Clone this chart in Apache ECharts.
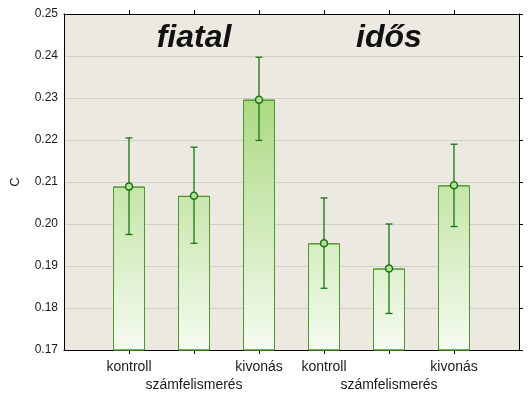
<!DOCTYPE html>
<html>
<head>
<meta charset="utf-8">
<script src="https://cdn.jsdelivr.net/npm/echarts@6/dist/echarts.min.js"></script>
<style>
  html, body { margin: 0; padding: 0; background: #fff; }
  #chart { width: 530px; height: 397px; }
</style>
</head>
<body>
<div id="chart"></div>
<script>
// slots 0 and 7 are empty padding so bars sit on 1..6
const categories = ['', 'kontroll', '\nszámfelismerés', 'kivonás', 'kontroll', '\nszámfelismerés', 'kivonás', '']
const means = [null, 0.2089, 0.2067, 0.2296, 0.1954, 0.1894, 0.2092, null]
const lower = [null, 0.1975, 0.1954, 0.2199, 0.1847, 0.1787, 0.1994, null]
const upper = [null, 0.2205, 0.2183, 0.2397, 0.2062, 0.2000, 0.2190, null]
const groupLabels = ['fiatal', 'idős']
const groupCenters = [2, 5]
const yTicks = { min: 0.17, max: 0.25, interval: 0.01 }

const green = '#1a7510'
const font = 'Arial, "Liberation Sans", sans-serif'

const errData = []
const meanData = []
means.forEach((m, i) => {
    if (m == null) return
    errData.push([i, lower[i], upper[i]])
    meanData.push([i, m])
})

const chart = echarts.init(document.getElementById('chart'))

const tickShown = (idx) => idx > 0 && idx < categories.length - 1

const option = {
    backgroundColor: '#fff',
    animation: false,
    grid: {
        left: 64, right: 11, top: 14, bottom: 47,
        outerBoundsMode: 'none',
        containLabel: false,
        show: true, backgroundColor: '#ece9e1', borderWidth: 0
    },
    xAxis: [
        {
            type: 'category',
            data: categories,
            boundaryGap: false,
            axisLine: { lineStyle: { color: '#000', width: 1 } },
            axisTick: { show: true, length: 4, interval: tickShown, lineStyle: { color: '#000' } },
            axisLabel: {
                interval: 0, margin: 8, color: '#1a1a1a', fontSize: 14, lineHeight: 18,
                fontFamily: font
            },
            splitLine: { show: false }
        },
        {
            type: 'category',
            position: 'top',
            data: categories,
            boundaryGap: false,
            axisLine: { lineStyle: { color: '#000', width: 1 } },
            axisTick: { show: true, length: 4, interval: tickShown, lineStyle: { color: '#000' } },
            axisLabel: { show: false },
            splitLine: { show: false }
        }
    ],
    yAxis: [
        {
            type: 'value',
            min: yTicks.min, max: yTicks.max, interval: yTicks.interval,
            name: 'C',
            nameLocation: 'middle',
            nameGap: 42,
            nameRotate: 90,
            nameTextStyle: { color: '#1a1a1a', fontSize: 13, fontFamily: font },
            axisLine: { show: true, lineStyle: { color: '#000', width: 1 } },
            axisTick: { show: false },
            axisLabel: {
                margin: 6, color: '#1a1a1a', fontSize: 12, fontFamily: font,
                formatter: v => v.toFixed(2)
            },
            splitLine: { show: true, lineStyle: { color: '#d2cfc6', width: 1 } }
        },
        {
            type: 'value',
            position: 'right',
            min: yTicks.min, max: yTicks.max, interval: yTicks.interval,
            axisLine: { show: true, lineStyle: { color: '#000', width: 1 } },
            axisTick: { show: true, length: 4, lineStyle: { color: '#000' } },
            axisLabel: { show: false },
            splitLine: { show: false }
        }
    ],
    series: [
        {
            type: 'bar',
            data: means,
            barWidth: 32,
            itemStyle: {
                color: new echarts.graphic.LinearGradient(0, 70, 0, 350, [
                    { offset: 0, color: '#a3d676' },
                    { offset: 1, color: '#f5fbf0' }
                ], true),
                borderColor: '#4f9530',
                borderWidth: 1
            }
        },
        {
            type: 'custom',
            data: errData,
            z: 5,
            renderItem: function (params, api) {
                const x = api.value(0)
                const lo = api.coord([x, api.value(1)])
                const hi = api.coord([x, api.value(2)])
                const cap = 3.5
                const style = { stroke: green, lineWidth: 1.3 }
                return {
                    type: 'group',
                    children: [
                        { type: 'line', shape: { x1: lo[0], y1: lo[1], x2: hi[0], y2: hi[1] }, style },
                        { type: 'line', shape: { x1: hi[0] - cap, y1: hi[1], x2: hi[0] + cap, y2: hi[1] }, style },
                        { type: 'line', shape: { x1: lo[0] - cap, y1: lo[1], x2: lo[0] + cap, y2: lo[1] }, style }
                    ]
                }
            }
        },
        {
            type: 'scatter',
            data: meanData,
            z: 6,
            symbol: 'circle',
            symbolSize: 7,
            itemStyle: { color: '#b8e09a', borderColor: green, borderWidth: 1.5, opacity: 1 }
        }
    ]
}

chart.setOption(option)

// group titles placed through the axes
const graphics = groupLabels.map((txt, i) => {
    const px = chart.convertToPixel({ xAxisIndex: 0, yAxisIndex: 0 }, [groupCenters[i], 0.2405])
    return {
        type: 'text',
        x: px[0],
        y: px[1],
        style: {
            text: txt,
            align: 'center',
            verticalAlign: 'bottom',
            font: 'italic bold 32px ' + font,
            fill: '#111'
        }
    }
})
chart.setOption({ graphic: graphics })
</script>
</body>
</html>
